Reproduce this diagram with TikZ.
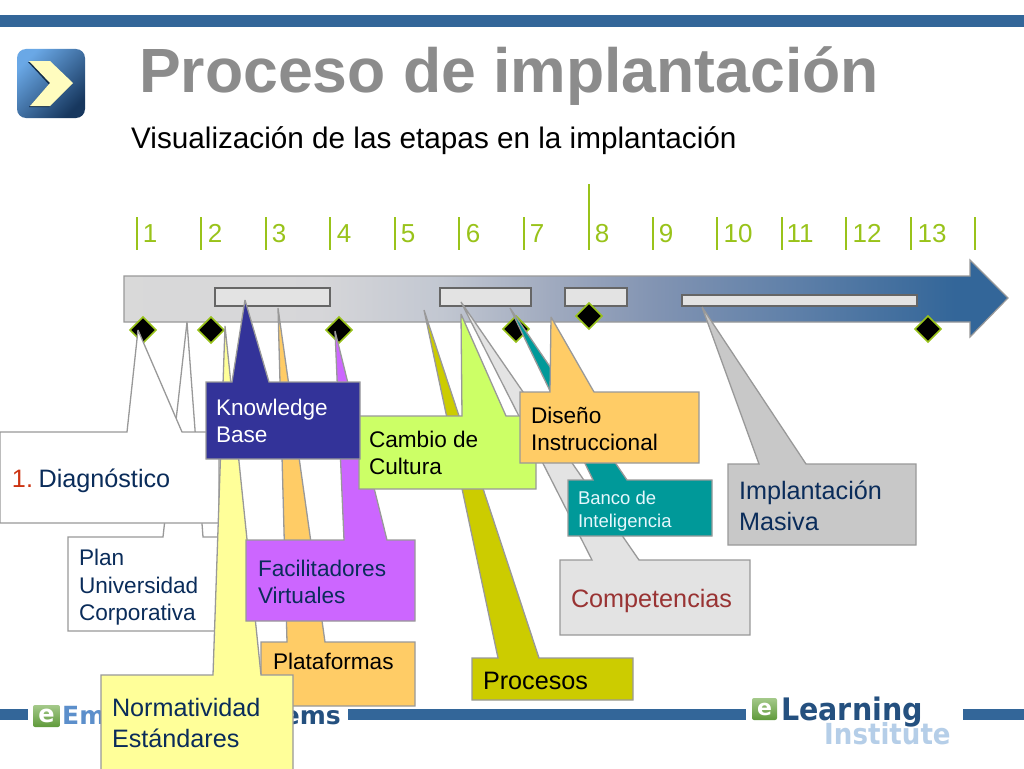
\documentclass[tikz,border=0pt]{standalone}
\usepackage{fontspec}
\setmainfont{Liberation Sans}
\newfontfamily\logofont{DejaVu Sans}
\definecolor{barblue}{HTML}{336699}
\definecolor{tickgreen}{HTML}{99C31A}
\definecolor{navy}{HTML}{0A2C5A}
\definecolor{edgegray}{HTML}{999999}
\definecolor{iconlight}{HTML}{6AA8E6}
\definecolor{iconmid}{HTML}{336699}
\definecolor{icondark}{HTML}{17375E}
\definecolor{logolight}{HTML}{5C8FCB}
\definecolor{logodark}{HTML}{24507F}
\definecolor{logopale}{HTML}{B5CEE8}
\definecolor{greentop}{HTML}{A4C98A}
\definecolor{greenbot}{HTML}{5F9A3A}
\definecolor{orangefill}{HTML}{FFCC66}
\definecolor{yellowfill}{HTML}{FFFF99}
\definecolor{purplefill}{HTML}{CC66FF}
\definecolor{olivefill}{HTML}{CCCC00}
\definecolor{tealfill}{HTML}{009999}
\definecolor{limefill}{HTML}{CCFF66}
\definecolor{indigofill}{HTML}{333399}
\definecolor{paleGray}{HTML}{E3E3E3}
\definecolor{midGray}{HTML}{C8C8C8}
\definecolor{brick}{HTML}{993333}
\definecolor{redone}{HTML}{CC3311}
\pgfdeclarehorizontalshading{arrowshade}{100bp}{
 rgb(0bp)=(.85,.85,.85);
 rgb(25bp)=(.85,.85,.85);
 rgb(36bp)=(.84,.84,.85);
 rgb(43bp)=(.76,.78,.82);
 rgb(49bp)=(.63,.67,.75);
 rgb(55bp)=(.51,.58,.70);
 rgb(63bp)=(.37,.50,.66);
 rgb(72bp)=(.20,.40,.60);
 rgb(100bp)=(.20,.40,.60)}
\newcommand{\fsz}[2]{\fontsize{#1}{#2}\selectfont}
\tikzset{
 x=1pt,y=-1pt,
 callout/.style={draw=edgegray,line width=1.3pt,line join=miter,miter limit=3},
 lbl/.style={anchor=west,inner sep=0pt,outer sep=0pt,align=left},
 smalltxt/.style={lbl,font=\fsz{22.6}{27.5}},
 bigtxt/.style={lbl,font=\fsz{25.2}{30.5}},
 tick/.style={draw=tickgreen,line width=1.3pt},
 num/.style={anchor=base,inner sep=0pt,text=tickgreen,font=\fsz{26}{28}},
 gem/.style={draw=tickgreen,line width=1.6pt,fill=black},
 slot/.style={draw=black!60,line width=1.1pt,fill=paleGray},
 blueline/.style={fill=barblue},
 greenchip/.style={rounded corners=2pt,top color=greentop,bottom color=greenbot},
}
\begin{document}
\begin{tikzpicture}
\useasboundingbox (0,0) rectangle (1024,768);
\fill[white] (0,0) rectangle (1024,768);
% frame bars
\fill[blueline] (0,15) rectangle (1024,27);
\fill[blueline] (0,709) rectangle (28,720);
\fill[blueline] (348,709) rectangle (746,720);
\fill[blueline] (963,709) rectangle (1024,720);
% icon
\shade[rounded corners=9pt,left color=iconlight,middle color=iconmid,right color=icondark,shading angle=45]
  (17,49) rectangle (85,118);
\fill[icondark!80!black] (28,62) -- (49,62) -- (72,84.5) -- (49,107) -- (29,107) -- (49,84.5) -- cycle;
\fill[yellow!25!white] (29,61) -- (50,61) -- (73,83) -- (50,106) -- (30,106) -- (50,83) -- cycle;
% title
\node[anchor=base west,inner sep=0pt,text=black!45,font=\fsz{62.5}{70}\bfseries] (title) at (139,92) {Proceso de implantación};
\node[anchor=base west,inner sep=0pt,text=black,font=\fsz{29.7}{32}] (subtitle) at (131,148) {Visualización de las etapas en la implantación};
% ticks
\foreach \x in {137,201,266,330,395,459,524,653,717,782,846,911,975}{\draw[tick] (\x,217) -- (\x,250);}
\draw[tick] (589,184) -- (589,250);
\node[num] (n1) at (150,242) {1};
\node[num] (n2) at (215,242) {2};
\node[num] (n3) at (279,242) {3};
\node[num] (n4) at (344,242) {4};
\node[num] (n5) at (408,242) {5};
\node[num] (n6) at (473,242) {6};
\node[num] (n7) at (537,242) {7};
\node[num] (n8) at (602,242) {8};
\node[num] (n9) at (666,242) {9};
\node[num] (n10) at (738,242) {10};
\node[num] (n11) at (800,242) {11};
\node[num] (n12) at (867,242) {12};
\node[num] (n13) at (932,242) {13};
% main arrow
\shade[shading=arrowshade] (124,276) -- (970,276) -- (970,260) -- (1008,298) -- (970,337) -- (970,322) -- (124,322) -- cycle;
\draw[edgegray,line width=1.2pt] (124,276) -- (970,276) -- (970,260) -- (1008,298) -- (970,337) -- (970,322) -- (124,322) -- cycle;
% slots
\filldraw[slot] (215,288) rectangle (330,306);
\filldraw[slot] (440,288) rectangle (531,306);
\filldraw[slot] (565,288) rectangle (627,306);
\filldraw[slot] (682,295) rectangle (917,306);
% milestones
\foreach \cx/\cy in {143/330,211/330,339/330,516/329,589/316,928/329}{
  \filldraw[gem] (\cx-13,\cy) -- (\cx,\cy-13) -- (\cx+13,\cy) -- (\cx,\cy+13) -- cycle;}
% lower logos
\shade[greenchip] (33,705) rectangle (60,727);
\node[inner sep=0pt,text=white,font=\logofont\fsz{24}{26}\bfseries] (elogoA) at (46.5,716) {e};
\node[anchor=base west,inner sep=0pt,text=logolight,font=\logofont\fsz{25}{30}\bfseries] (emA) at (62,724) {Em};
\node[anchor=base east,inner sep=0pt,text=logodark,font=\logofont\fsz{25}{30}\bfseries] (emB) at (341,724) {ems};
\shade[greenchip] (752,698) rectangle (777,720);
\node[inner sep=0pt,text=white,font=\logofont\fsz{22}{24}\bfseries] (elogoB) at (764.5,709) {e};
\node[anchor=base west,inner sep=0pt,text=logopale,font=\logofont\fsz{29}{30}\bfseries] (inst) at (824,744) {\scalebox{.9}[1]{Institute}};
\node[anchor=base west,inner sep=0pt,text=logodark,font=\logofont\fsz{31}{30}\bfseries] (lrn) at (781,720) {\scalebox{.92}[1]{Learning}};
% callouts
\filldraw[callout,fill=white] (68,537) -- (163,537) -- (187,322) -- (203,537) -- (225,537) -- (225,631) -- (68,631) -- cycle;
\filldraw[callout,fill=white] (0,432) -- (127,432) -- (138,330) -- (182,432) -- (219,432) -- (219,523) -- (0,523) -- cycle;
\filldraw[callout,fill=orangefill] (261,642) -- (287,642) -- (278,308) -- (325,642) -- (415,642) -- (415,706) -- (261,706) -- cycle;
\filldraw[callout,fill=yellowfill] (101,675) -- (213,675) -- (225,326) -- (261,675) -- (293,675) -- (293,775) -- (101,775) -- cycle;
\filldraw[callout,fill=purplefill] (246,540) -- (344,540) -- (335,331) -- (387,540) -- (415,540) -- (415,621) -- (246,621) -- cycle;
\filldraw[callout,fill=olivefill] (472,658) -- (498,658) -- (424,310) -- (539,658) -- (633,658) -- (633,700) -- (472,700) -- cycle;
\filldraw[callout,fill=paleGray] (560,560) -- (592,560) -- (461,302) -- (639,560) -- (750,560) -- (750,635) -- (560,635) -- cycle;
\filldraw[callout,fill=tealfill] (568,480) -- (593,480) -- (510,308) -- (627,480) -- (712,480) -- (712,536) -- (568,536) -- cycle;
\filldraw[callout,fill=limefill] (359,416) -- (462,416) -- (461,314) -- (506,416) -- (536,416) -- (536,489) -- (359,489) -- cycle;
\filldraw[callout,fill=indigofill] (206,382) -- (232,382) -- (245,300) -- (269,382) -- (360,382) -- (360,459) -- (206,459) -- cycle;
\filldraw[callout,fill=orangefill] (520,392) -- (550,392) -- (551,317) -- (594,392) -- (699,392) -- (699,463) -- (520,463) -- cycle;
\filldraw[callout,fill=midGray] (728,464) -- (759,464) -- (702,307) -- (806,464) -- (916,464) -- (916,545) -- (728,545) -- cycle;
% labels
\node[bigtxt,text=navy] (diag) at (12,481) {\textcolor{redone}{1.}\hspace{.22em}Diagnóstico};
\node[smalltxt,text=navy] (plan) at (79,587.5) {Plan\\Universidad\\Corporativa};
\node[smalltxt,text=black] (plat) at (273,661) {Plataformas};
\node[bigtxt,text=navy] (norm) at (112,723) {Normatividad\\Estándares};
\node[smalltxt,text=navy] (faci) at (258,582) {Facilitadores\\Virtuales};
\node[bigtxt,text=black] (proc) at (483,681) {Procesos};
\node[bigtxt,text=brick] (comp) at (571,601) {Competencias};
\node[lbl,text=white!90!cyan,font=\fsz{18.5}{22.5}] (banco) at (578,511) {Banco de\\Inteligencia};
\node[smalltxt,text=black] (camb) at (369,453) {Cambio de\\Cultura};
\node[smalltxt,text=white] (know) at (216,421) {Knowledge\\Base};
\node[smalltxt,text=black] (dise) at (531,429) {Diseño\\Instruccional};
\node[bigtxt,text=navy] (impl) at (739,506) {Implantación\\Masiva};
\end{tikzpicture}
\end{document}
